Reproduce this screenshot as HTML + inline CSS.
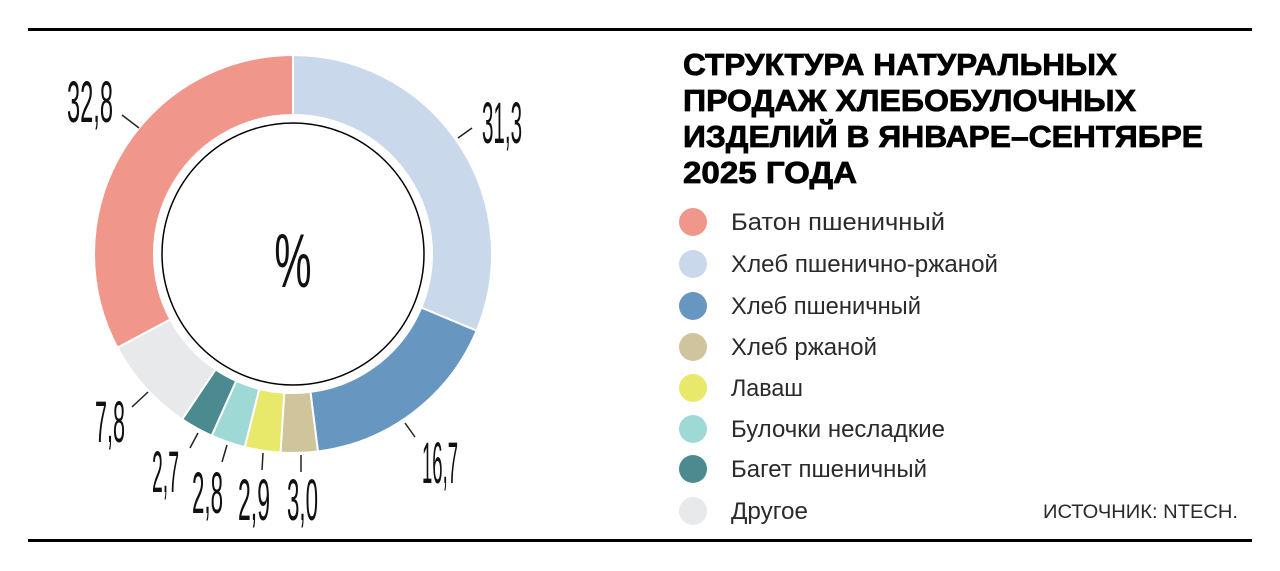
<!DOCTYPE html>
<html><head><meta charset="utf-8"><style>
html,body{margin:0;padding:0;background:#fff;width:1280px;height:571px;overflow:hidden}
svg{display:block}
.lbl{font-family:"Liberation Sans",sans-serif;font-size:58px;fill:#111}
.leg{font-family:"Liberation Sans",sans-serif;font-size:24px;fill:#2a2a2a}
.ttl{font-family:"Liberation Sans",sans-serif;font-weight:bold;font-size:31px;fill:#000;stroke:#000;stroke-width:0.8}
</style></head><body>
<svg id="s" width="1280" height="571" viewBox="0 0 1280 571" xmlns="http://www.w3.org/2000/svg">
<rect x="28" y="28" width="1224" height="3" fill="#000"/>
<rect x="28" y="539" width="1224" height="3" fill="#000"/>
<g id="ring"></g>
<circle cx="293" cy="254" r="131" fill="none" stroke="#000" stroke-width="1.5"/>
<text x="293" y="287" text-anchor="middle" class="lbl" transform="translate(293 0) scale(0.55 1) translate(-293 0)" style="font-size:76px">%</text>
<g stroke="#222" stroke-width="1.5">
<line x1="122" y1="115" x2="139" y2="128"/>
<line x1="458" y1="138" x2="472" y2="128"/>
<line x1="405" y1="423" x2="415" y2="437"/>
<line x1="148" y1="392" x2="132" y2="407"/>
<line x1="198" y1="433" x2="190" y2="448"/>
<line x1="227" y1="445" x2="222" y2="462"/>
<line x1="263" y1="453" x2="262" y2="470"/>
<line x1="301" y1="455" x2="301" y2="472"/>
</g>
<g class="lbl">
<text x="67" y="122" textLength="46" lengthAdjust="spacingAndGlyphs">32,8</text>
<text x="482" y="143" textLength="40" lengthAdjust="spacingAndGlyphs">31,3</text>
<text x="422" y="483" textLength="36" lengthAdjust="spacingAndGlyphs">16,7</text>
<text x="95" y="442" textLength="30" lengthAdjust="spacingAndGlyphs">7,8</text>
<text x="152" y="492" textLength="27" lengthAdjust="spacingAndGlyphs">2,7</text>
<text x="192" y="513" textLength="31" lengthAdjust="spacingAndGlyphs">2,8</text>
<text x="238" y="520" textLength="32" lengthAdjust="spacingAndGlyphs">2,9</text>
<text x="287" y="520" textLength="31" lengthAdjust="spacingAndGlyphs">3,0</text>
</g>
<g class="ttl">
<text x="683" y="75" textLength="434" lengthAdjust="spacingAndGlyphs">СТРУКТУРА НАТУРАЛЬНЫХ</text>
<text x="683" y="111" textLength="453" lengthAdjust="spacingAndGlyphs">ПРОДАЖ ХЛЕБОБУЛОЧНЫХ</text>
<text x="683" y="147" textLength="520" lengthAdjust="spacingAndGlyphs">ИЗДЕЛИЙ В ЯНВАРЕ–СЕНТЯБРЕ</text>
<text x="683" y="183" textLength="174" lengthAdjust="spacingAndGlyphs">2025 ГОДА</text>
</g>
<g>
<circle cx="693" cy="222" r="14" fill="#f0968a"/>
<circle cx="693" cy="264" r="14" fill="#c9d8ea"/>
<circle cx="693" cy="306" r="14" fill="#6797c0"/>
<circle cx="693" cy="347" r="14" fill="#cfc49c"/>
<circle cx="693" cy="388" r="14" fill="#e8e86a"/>
<circle cx="693" cy="429" r="14" fill="#9ed9d6"/>
<circle cx="693" cy="469" r="14" fill="#4b8a8e"/>
<circle cx="693" cy="511" r="14" fill="#e8e9eb"/>
</g>
<g class="leg">
<text x="731" y="230" textLength="214" lengthAdjust="spacingAndGlyphs">Батон пшеничный</text>
<text x="731" y="272" textLength="267" lengthAdjust="spacingAndGlyphs">Хлеб пшенично-ржаной</text>
<text x="731" y="314" textLength="190" lengthAdjust="spacingAndGlyphs">Хлеб пшеничный</text>
<text x="731" y="355" textLength="146" lengthAdjust="spacingAndGlyphs">Хлеб ржаной</text>
<text x="731" y="396" textLength="72" lengthAdjust="spacingAndGlyphs">Лаваш</text>
<text x="731" y="437" textLength="214" lengthAdjust="spacingAndGlyphs">Булочки несладкие</text>
<text x="731" y="477" textLength="196" lengthAdjust="spacingAndGlyphs">Багет пшеничный</text>
<text x="731" y="519" textLength="77" lengthAdjust="spacingAndGlyphs">Другое</text>
<text x="1043" y="518" textLength="195" lengthAdjust="spacingAndGlyphs" style="font-size:19px">ИСТОЧНИК: NTECH.</text>
</g>
</svg>
<script>
var data=[[31.3,"#c9d8ea"],[16.7,"#6797c0"],[3.0,"#cfc49c"],[2.9,"#e8e86a"],[2.8,"#9ed9d6"],[2.7,"#4b8a8e"],[7.8,"#e8e9eb"],[32.8,"#f0968a"]];
var cx=293,cy=254,R=199,r=139,a=0,g=document.getElementById("ring"),ns="http://www.w3.org/2000/svg";
function pt(rad,ang){var t=(ang-90)*Math.PI/180;return [cx+rad*Math.cos(t),cy+rad*Math.sin(t)];}
data.forEach(function(d){var s=a,e=a+d[0]*3.6;a=e;var l=(e-s)>180?1:0;
var p1=pt(R,s),p2=pt(R,e),p3=pt(r,e),p4=pt(r,s);
var p=document.createElementNS(ns,"path");
p.setAttribute("d","M"+p1+"A"+R+","+R+" 0 "+l+" 1 "+p2+"L"+p3+"A"+r+","+r+" 0 "+l+" 0 "+p4+"Z");
p.setAttribute("fill",d[1]);p.setAttribute("stroke","#fff");p.setAttribute("stroke-width","2");g.appendChild(p);});
</script>
</body></html>
